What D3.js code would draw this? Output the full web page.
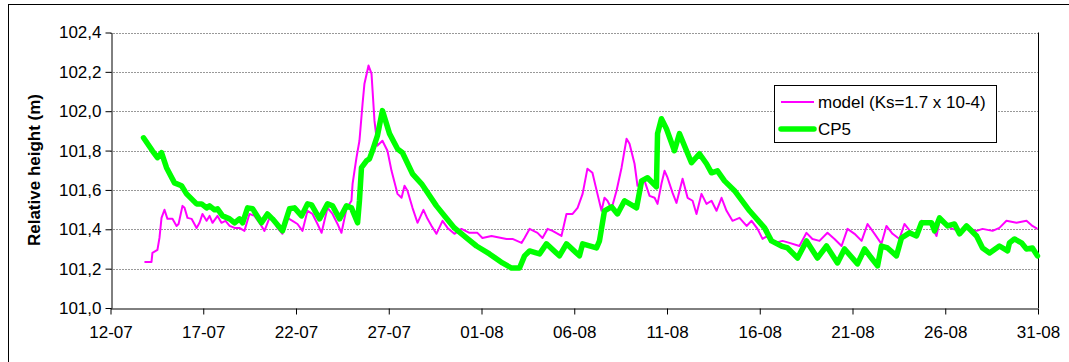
<!DOCTYPE html>
<html>
<head>
<meta charset="utf-8">
<script src="https://cdn.jsdelivr.net/npm/d3@7"></script>
<style>
    body { margin: 0; background: #fff; }
    svg { display: block; }
    text { font-family: "Liberation Sans", Arial, sans-serif; }
</style>
</head>
<body>
<svg id="chart"></svg>
<script>
// days counted from 12-07 00:00
var modelDays = [1.83, 2.21, 2.26, 2.53, 2.64, 2.75, 2.91, 3.07, 3.34, 3.56, 3.67, 3.88, 3.99, 4.15, 4.37, 4.64, 4.80, 4.96,
    5.18, 5.34, 5.50, 5.77, 5.98, 6.20, 6.42, 6.69, 6.95, 7.22, 7.49, 7.76, 8.03, 8.30, 8.57, 8.73, 9.00, 9.27, 9.54, 9.81,
    10.08, 10.35, 10.62, 10.89, 11.16, 11.38, 11.70, 11.97, 12.24, 12.45, 12.72, 12.99, 13.05, 13.26, 13.42, 13.59, 13.69,
    13.91, 14.07, 14.23, 14.39, 14.66, 14.93, 15.15, 15.47, 15.69, 15.85, 16.01, 16.28, 16.55, 16.87, 17.09, 17.31, 17.57,
    17.90, 18.17, 18.54, 18.92, 19.35, 19.78, 20.05, 20.54, 21.08, 21.35, 21.67, 22.16, 22.32, 22.59, 23.02, 23.29, 23.56,
    23.83, 24.31, 24.58, 24.91, 25.18, 25.45, 25.71, 25.98, 26.25, 26.47, 26.63, 26.79, 27.01, 27.28, 27.55, 27.82, 27.98,
    28.25, 28.41, 28.79, 29.06, 29.33, 29.49, 29.70, 29.87, 30.03, 30.30, 30.51, 30.84, 31.11, 31.38, 31.59, 31.86, 32.13,
    32.40, 32.67, 32.94, 33.21, 33.53, 33.91, 34.29, 34.56, 34.88, 35.15, 35.42, 35.80, 36.23, 36.60, 37.14, 37.52, 37.84,
    38.22, 38.65, 39.03, 39.41, 39.73, 40.11, 40.49, 40.81, 41.19, 41.56, 41.83, 42.16, 42.53, 42.80, 43.18, 43.50, 43.72,
    44.15, 44.53, 44.69, 45.07, 45.39, 45.77, 46.15, 46.69, 47.01, 47.55, 47.92, 48.30, 48.84, 49.38, 49.70, 49.97];
var modelValues = [101.234, 101.234, 101.28, 101.295, 101.356, 101.458, 101.499, 101.453, 101.453, 101.417, 101.427, 101.519,
    101.509, 101.458, 101.453, 101.407, 101.433, 101.478, 101.443, 101.468, 101.433, 101.468, 101.433, 101.443, 101.417,
    101.407, 101.407, 101.392, 101.478, 101.468, 101.433, 101.392, 101.458, 101.453, 101.407, 101.377, 101.458, 101.443,
    101.427, 101.392, 101.494, 101.478, 101.427, 101.382, 101.509, 101.478, 101.427, 101.382, 101.504, 101.545, 101.631,
    101.764, 101.85, 102.04, 102.14, 102.232, 102.191, 101.952, 101.825, 101.85, 101.799, 101.697, 101.58, 101.56, 101.621,
    101.596, 101.509, 101.433, 101.499, 101.453, 101.417, 101.377, 101.443, 101.407, 101.377, 101.402, 101.382, 101.382,
    101.356, 101.366, 101.356, 101.351, 101.351, 101.331, 101.356, 101.402, 101.382, 101.356, 101.402, 101.392, 101.366,
    101.478, 101.478, 101.509, 101.58, 101.708, 101.687, 101.58, 101.494, 101.56, 101.545, 101.504, 101.596, 101.713,
    101.86, 101.835, 101.733, 101.621, 101.646, 101.57, 101.56, 101.529, 101.631, 101.697, 101.662, 101.585, 101.534,
    101.657, 101.56, 101.545, 101.478, 101.58, 101.529, 101.545, 101.494, 101.56, 101.494, 101.443, 101.458, 101.417,
    101.443, 101.402, 101.351, 101.366, 101.331, 101.341, 101.331, 101.315, 101.382, 101.351, 101.341, 101.382, 101.351,
    101.315, 101.402, 101.377, 101.341, 101.427, 101.377, 101.326, 101.417, 101.377, 101.351, 101.427, 101.382, 101.366,
    101.443, 101.433, 101.366, 101.443, 101.417, 101.402, 101.392, 101.407, 101.392, 101.402, 101.392, 101.407, 101.443,
    101.433, 101.443, 101.417, 101.402];

var cp5Days = [1.78, 2.26, 2.53, 2.75, 3.02, 3.45, 3.83, 4.10, 4.64, 4.91, 5.18, 5.34, 5.61, 5.77, 6.04, 6.42, 6.69, 6.95,
    7.12, 7.39, 7.66, 8.14, 8.46, 8.73, 9.27, 9.65, 9.92, 10.30, 10.62, 10.84, 11.27, 11.70, 11.97, 12.35, 12.72, 12.99,
    13.32, 13.42, 13.53, 13.80, 13.96, 14.12, 14.39, 14.66, 15.04, 15.47, 15.74, 16.28, 16.77, 17.57, 18.01, 18.54, 19.19,
    19.73, 20.43, 21.13, 21.62, 22.05, 22.32, 22.59, 23.13, 23.50, 24.20, 24.58, 25.28, 25.45, 26.20, 26.36, 26.63, 27.01,
    27.33, 27.71, 28.36, 28.63, 28.95, 29.43, 29.49, 29.70, 29.97, 30.40, 30.67, 31.32, 31.75, 32.13, 32.40, 32.72, 33.10,
    33.64, 34.45, 35.26, 35.63, 36.17, 36.50, 37.04, 37.52, 38.11, 38.60, 39.19, 39.57, 40.27, 40.65, 41.02, 41.35, 41.56,
    41.89, 42.37, 42.64, 43.07, 43.45, 43.72, 44.26, 44.42, 44.69, 45.12, 45.50, 45.77, 46.15, 46.69, 47.01, 47.39, 47.92,
    48.36, 48.46, 48.73, 49.11, 49.38, 49.70, 49.97];
var cp5Values = [101.865, 101.799, 101.764, 101.789, 101.713, 101.636, 101.621, 101.58, 101.529, 101.529, 101.509, 101.519,
    101.499, 101.504, 101.468, 101.453, 101.433, 101.453, 101.433, 101.509, 101.504, 101.433, 101.478, 101.453, 101.392,
    101.504, 101.509, 101.468, 101.529, 101.524, 101.453, 101.529, 101.519, 101.453, 101.519, 101.509, 101.433, 101.545,
    101.713, 101.748, 101.758, 101.799, 101.876, 102.003, 101.886, 101.809, 101.789, 101.682, 101.631, 101.519, 101.468,
    101.407, 101.356, 101.315, 101.275, 101.229, 101.203, 101.203, 101.265, 101.29, 101.275, 101.326, 101.265, 101.326,
    101.265, 101.326, 101.305, 101.341, 101.494, 101.514, 101.478, 101.545, 101.509, 101.646, 101.662, 101.616, 101.886,
    101.962, 101.911, 101.799, 101.886, 101.738, 101.784, 101.733, 101.687, 101.697, 101.646, 101.596, 101.494, 101.407,
    101.341, 101.315, 101.305, 101.254, 101.341, 101.254, 101.315, 101.229, 101.30, 101.224, 101.30, 101.254, 101.214,
    101.315, 101.305, 101.265, 101.356, 101.382, 101.366, 101.433, 101.433, 101.392, 101.458, 101.417, 101.427, 101.377,
    101.417, 101.366, 101.305, 101.28, 101.315, 101.29, 101.331, 101.351, 101.331, 101.30, 101.305, 101.265];

var tickLabels = ["12-07", "17-07", "22-07", "27-07", "01-08", "06-08", "11-08", "16-08", "21-08", "26-08", "31-08"];
var yTicks = [101.0, 101.2, 101.4, 101.6, 101.8, 102.0, 102.2, 102.4];
var seriesNames = ["model (Ks=1.7 x 10-4)", "CP5"];

var width = 1069,
    height = 362;

var parseDay = d3.timeParse("%d-%m");
var tickDates = tickLabels.map(parseDay);
var start = tickDates[0];

function toDate(d) {
    return new Date(start.getTime() + d * 86400000);
}

var svg = d3.select("#chart")
    .attr("width", width)
    .attr("height", height);

// outer frame (only left and top edges are in view)
svg.append("rect")
    .attr("x", 8.5).attr("y", 4.5)
    .attr("width", 1100).attr("height", 400)
    .attr("fill", "none").attr("stroke", "#000");

var x = d3.scaleTime()
    .domain([tickDates[0], tickDates[tickDates.length - 1]])
    .range([110.5, 1038]);

var y = d3.scaleLinear()
    .domain([101.0, 102.4])
    .range([308, 32.5]);

// dotted gridlines
svg.append("g").selectAll("line")
    .data(yTicks.slice(1))
    .enter()
    .append("line")
    .attr("x1", x.range()[0])
    .attr("x2", x.range()[1])
    .attr("y1", function(d) { return Math.round(y(d)) + 0.5; })
    .attr("y2", function(d) { return Math.round(y(d)) + 0.5; })
    .attr("stroke", "#333")
    .attr("stroke-dasharray", "1,2");

// right edge of the plot area
svg.append("line")
    .attr("x1", 1038.5).attr("x2", 1038.5)
    .attr("y1", y(102.4)).attr("y2", y(101.0))
    .attr("stroke", "#000");

var xAxis = svg.append("g")
    .attr("transform", "translate(0," + (Math.round(y(101.0)) + 0.5) + ")")
    .call(d3.axisBottom(x)
        .tickValues(tickDates)
        .tickFormat(d3.timeFormat("%d-%m"))
        .tickSize(6)
        .tickSizeOuter(0)
        .tickPadding(11));

var yAxis = svg.append("g")
    .attr("transform", "translate(" + (Math.round(x.range()[0]) + 0.5) + ",0)")
    .call(d3.axisLeft(y)
        .tickValues(yTicks)
        .tickFormat(function(d) { return d.toFixed(1).replace(".", ","); })
        .tickSize(6)
        .tickSizeOuter(0)
        .tickPadding(4));

[xAxis, yAxis].forEach(function(a) {
    a.selectAll("text")
        .attr("fill", "#000")
        .style("font-size", "17px")
        .style("font-family", "'Liberation Sans', Arial, sans-serif");
    a.selectAll("line, path").attr("stroke", "#000");
});

svg.append("text")
    .attr("transform", "translate(39.5,170) rotate(-90)")
    .attr("text-anchor", "middle")
    .style("font-size", "17px")
    .style("font-weight", "bold")
    .text("Relative height (m)");

var line = d3.line()
    .x(function(d) { return x(toDate(d[0])); })
    .y(function(d) { return y(d[1]); });

svg.append("path")
    .datum(d3.zip(modelDays, modelValues))
    .attr("d", line)
    .attr("fill", "none")
    .attr("stroke", "#ff00ff")
    .attr("stroke-width", 2)
    .attr("stroke-linejoin", "round");

svg.append("path")
    .datum(d3.zip(cp5Days, cp5Values))
    .attr("d", line)
    .attr("fill", "none")
    .attr("stroke", "#00ff00")
    .attr("stroke-width", 5.5)
    .attr("stroke-linejoin", "round")
    .attr("stroke-linecap", "round");

// legend
var legend = svg.append("g");
legend.append("rect")
    .attr("x", 774.5).attr("y", 85.5)
    .attr("width", 222).attr("height", 57)
    .attr("fill", "#fff").attr("stroke", "#000");

var legendStyles = [["#ff00ff", 2], ["#00ff00", 5.5]];
legend.selectAll("g.item")
    .data(d3.zip(seriesNames, legendStyles))
    .enter()
    .append("g")
    .attr("class", "item")
    .each(function(d, i) {
        var g = d3.select(this);
        var ly = 102 + i * 27;
        g.append("line")
            .attr("x1", 781).attr("x2", 814)
            .attr("y1", ly).attr("y2", ly)
            .attr("stroke", d[1][0])
            .attr("stroke-width", d[1][1])
            .attr("stroke-linecap", i ? "round" : "butt");
        g.append("text")
            .attr("x", 818)
            .attr("y", ly + 6)
            .style("font-size", "17px")
            .text(d[0]);
    });
</script>
</body>
</html>
